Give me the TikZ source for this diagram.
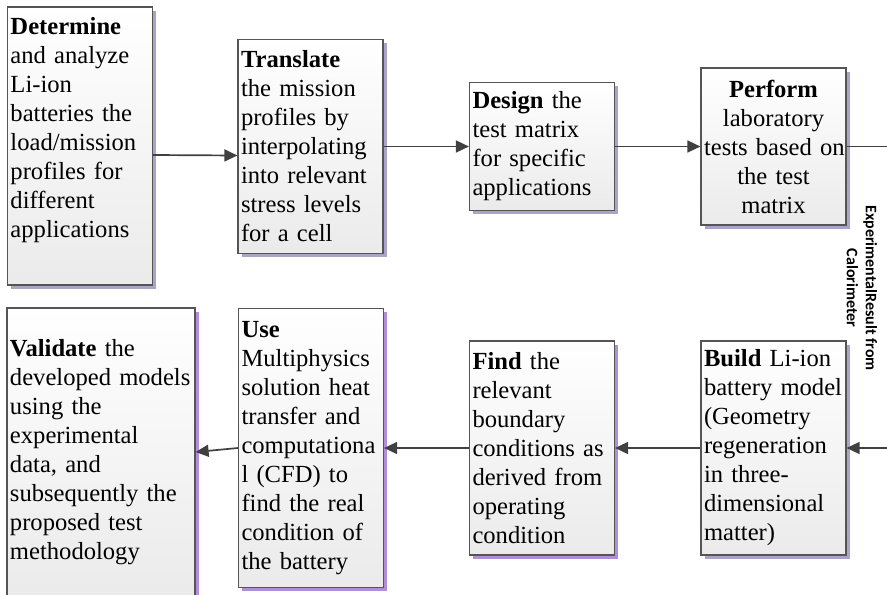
\documentclass[tikz,border=0pt]{standalone}
\usepackage{fontspec}
\setmainfont{Liberation Serif}
\newfontfamily\lblfont{Carlito}
\usetikzlibrary{shadows,arrows.meta}
\definecolor{boxline}{RGB}{85,85,85}
\definecolor{arrowgray}{RGB}{64,64,64}
\definecolor{shadowgray}{RGB}{172,164,200}
\definecolor{shadowpurple}{RGB}{178,142,216}

\begin{document}
\begin{tikzpicture}[x=0.5pt,y=-0.5pt]
\tikzset{stage/.style = {draw=boxline, line width=0.6pt, top color=white, bottom color=black!8,
    inner xsep=1.5pt, inner ysep=0pt, text width=69.5pt, minimum width=72.5pt, align=left,
    font=\fontsize{12.3}{14.5}\selectfont,
    drop shadow={fill=#1, opacity=1, shadow xshift=1.8pt, shadow yshift=-1.8pt}},
  stage/.default=shadowgray,
  flow/.style = {draw=arrowgray, line width=0.85pt, -{Triangle[length=6.5pt,width=6pt]}}}
\useasboundingbox (0,0) rectangle (887,594);

% top row
\node[stage, minimum height=139pt] (det) at (80,146) {\textbf{Determine}\\ and~analyze\\ Li-ion\\ batteries~the\\ load/mission\\ profiles~for\\ different\\ applications\\ \strut};
\node[stage, minimum height=107pt] (tra) at (310.5,146.5) {\textbf{Translate}\\ the~mission\\ profiles~by\\ interpolating\\ into~relevant\\ stress~levels\\ for~a~cell};
\node[stage, minimum height=64pt] (des) at (542,146.5) {\textbf{Design}~the\\ test~matrix\\ for~specific\\ applications};
\node[stage, minimum height=78.5pt, align=center] (per) at (773.5,146.5) {\textbf{Perform}\\ laboratory\\ tests~based~on\\ the~test\\ matrix};

% bottom row
\node[stage, minimum height=107pt] (bld) at (773.5,448) {\textbf{Build}~Li-ion\\ battery~model\\ (Geometry\\ regeneration\\ in~three-\\ dimensional\\ matter)};
\node[stage=shadowpurple, minimum height=107pt] (fnd) at (542,448) {\textbf{Find}~the\\ relevant\\ boundary\\ conditions~as\\ derived~from\\ operating\\ condition};
\node[stage=shadowpurple, minimum height=139.5pt] (use) at (311,448) {\textbf{Use}\\ Multiphysics\\ solution~heat\\ transfer~and\\ computationa\\ l~(CFD)~to\\ find~the~real\\ condition~of\\ the~battery};
\node[stage=shadowpurple, text width=91pt, minimum width=94pt, minimum height=144pt] (val) at (101,452) {\textbf{Validate}~the\\ developed~models\\ using~the\\ experimental\\ data,~and\\ subsequently~the\\ proposed~test\\ methodology};

\coordinate (rt) at (895,146.5);
\coordinate (rb) at (895,448);

\draw[flow] ([yshift=-4.5pt]det.east) -- ([yshift=-4.5pt]tra.west);
\draw[flow] (tra) -- (des);
\draw[flow] (des) -- (per);
\draw[flow] (per.east) -- (rt) -- (rb) -- (bld.east);
\draw[flow] (bld) -- (fnd);
\draw[flow] (fnd) -- (use);
\draw[flow] (use.west) -- (val.east);

\node[font=\fontsize{8}{9.5}\selectfont\lblfont\bfseries, rotate=-90, align=center] (res) at (862,288) {ExperimentalResult from\\ Calorimeter};
\end{tikzpicture}
\end{document}
